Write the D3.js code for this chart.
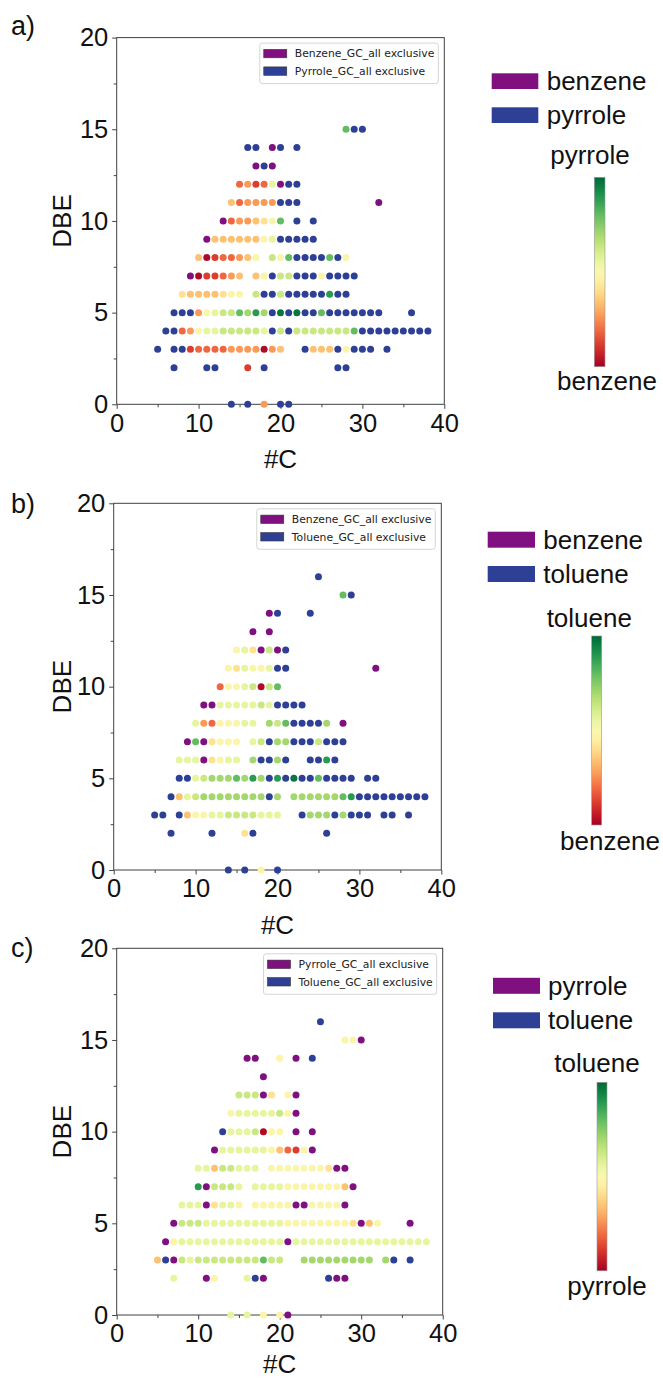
<!DOCTYPE html>
<html>
<head>
<meta charset="utf-8">
<script src="https://cdn.jsdelivr.net/npm/d3@7"></script>
<style>
  body { margin: 0; background: #fff; }
  svg { display: block; }
</style>
</head>
<body>
<svg id="fig" width="663" height="1378"></svg>
<script>
// ---------------------------------------------------------------------------
// Data
// ---------------------------------------------------------------------------
const carbonTicks = [0, 10, 20, 30, 40];
const carbonMinorTicks = [5, 15, 25, 35];
const dbeTicks = [0, 5, 10, 15, 20];
const dbeMinorTicks = [2.5, 7.5, 12.5, 17.5];

// Each row: [DBE, first carbon number, symbols]; one symbol per consecutive carbon.
//   '.'      no compound
//   'P'      exclusive to the first sample of the pair (purple)
//   'B'      exclusive to the second sample of the pair (blue)
//   'a'..'m' shared compound, relative share of the second sample (RdYlGn)
const shareLevels = {
  a: 0.02, b: 0.12, c: 0.19, d: 0.27, e: 0.34, f: 0.41, g: 0.48,
  h: 0.56, i: 0.63, j: 0.70, k: 0.80, l: 0.89, m: 0.97
};

// a) benzene vs pyrrole
const rowsBenzenePyrrole = [
  [15, 28, "kBB"],
  [14, 16, "BB.PB.B"],
  [13, 17, "PBP"],
  [12, 15, "cdbchPBB"],
  [11, 14, "ecddddBBB"],
  [11, 32, "P"],
  [10, 13, "Pcddefgk.B.B"],
  [9, 11, "PeeeeeeghBBBBB"],
  [8, 10, "eabccdeg.igkBBBBkBg"],
  [7, 9, "Pabbcde.egBiiBBBgBBBB"],
  [6, 8, "feeeefgg.iBBiBBBBBlBB"],
  [5, 7, "BBBdghiikjljBmBmBBkBBBBBBB"],
  [5, 36, "B"],
  [4, 6, "BBcdghhiiiiihBiBiiiiiiikBBBBBBBBB"],
  [3, 5, "B.BBbccccddddade..BeeeBgBBB.B"],
  [2, 7, "B...BB...b.B"],
  [2, 27, "BB"],
  [0, 14, "B.B.d.BB"]
];

// b) benzene vs toluene
const rowsBenzeneToluene = [
  [16, 25, "B"],
  [15, 28, "kB"],
  [14, 19, "PB...B"],
  [13, 17, "P.P"],
  [12, 15, "ghfPiPB"],
  [11, 14, "gfhgghBB"],
  [11, 32, "P"],
  [10, 13, "cgghiaik"],
  [9, 11, "PPhhhhhihBBBB"],
  [8, 10, "hdcggghh.jikBBBBj.P"],
  [7, 9, "PkPfggg.hiBjjBBBiBBB"],
  [6, 8, "hhhPfghh.jBBjB..BBlB"],
  [5, 8, "BBhijjjkjljBlBmBBkBBBB.BB"],
  [4, 7, "BehijjjjjjjjBj.jjjjjjklBBBBBBBBB"],
  [3, 5, "BB.Begghhiiiihhh..BjjjBjBBB.BB.B"],
  [2, 7, "B....B...fB"],
  [2, 26, "B"],
  [0, 14, "B.B.g.B"]
];

// c) pyrrole vs toluene
const rowsPyrroleToluene = [
  [16, 25, "B"],
  [15, 28, "ggP"],
  [14, 16, "PP..g.P.B"],
  [13, 18, "P"],
  [12, 15, "iiiPf.gP"],
  [11, 14, "ghhhhhigP"],
  [10, 13, "Bhhhiagg.P.P"],
  [9, 12, "PhhhhhhgecbgP"],
  [8, 10, "hheiihhh.gggggggfPP"],
  [7, 10, "lPiiih.hhhhgggggggeP"],
  [6, 8, "hhhPfhhg.gggggPPggggP"],
  [5, 7, "PiiihhhhhhhhhhggggggggfPeg"],
  [5, 36, "P"],
  [4, 6, "PghhhhhhhhhhhhhPhhhhhhhhhhhhhhhhh"],
  [3, 5, "eBPihiiiiiiiikii..jjjjjjjjj.jB.B"],
  [2, 7, "h...Pg...hBP"],
  [2, 26, "BPP"],
  [0, 14, "h.h.g.gP"]
];

const panelLetters = ["a)", "b)", "c)"];
const exclusiveLabels = [
  ["Benzene_GC_all exclusive", "Pyrrole_GC_all exclusive"],
  ["Benzene_GC_all exclusive", "Toluene_GC_all exclusive"],
  ["Pyrrole_GC_all exclusive", "Toluene_GC_all exclusive"]
];
const sampleNames = [
  ["benzene", "pyrrole"],
  ["benzene", "toluene"],
  ["pyrrole", "toluene"]
];
const panelRows = [rowsBenzenePyrrole, rowsBenzeneToluene, rowsPyrroleToluene];

// ---------------------------------------------------------------------------
// Styling and layout
// ---------------------------------------------------------------------------
const PURPLE = "#80107f";
const BLUE = "#2e4096";
const SANS = "'Liberation Sans', Arial, Helvetica, sans-serif";
const LEGEND_FONT = "'DejaVu Sans', sans-serif";

const layouts = [
  { frame: [116.7, 37.6, 327.6, 366.7], letterBase: 35, xlabBase: 468,
    side: { patchX: 491.7, patchW: 46.6, patchH: 15.7, row1: 35.7, row2: 69.7, textX: 546.7,
            titleBase: 126.5, titleX: 590, barX: 594.3, barW: 10.7, barTop: 139.7, barBot: 329.1,
            endBase: 352.4, endX: 607 } },
  { frame: [113.7, 503.3, 327.6, 366.7], letterBase: 513, xlabBase: 934,
    side: { patchX: 487.7, patchW: 47.3, patchH: 16, row1: 28.4, row2: 62.7, textX: 543.3,
            titleBase: 123.2, titleX: 589.3, barX: 591.7, barW: 10, barTop: 132.7, barBot: 321.7,
            endBase: 346.7, endX: 610 } },
  { frame: [116.7, 948.3, 326, 366.7], letterBase: 957, xlabBase: 1373,
    side: { patchX: 493, patchW: 47, patchH: 16, row1: 29.5, row2: 64, textX: 548,
            titleBase: 123.5, titleX: 597, barX: 597, barW: 10, barTop: 134, barBot: 322.5,
            endBase: 347, endX: 607 } }
];

const svg = d3.select("#fig");
const defs = svg.append("defs");

function expandRows(rows) {
  const pts = [];
  rows.forEach(([dbe, start, symbols]) => {
    [...symbols].forEach((s, i) => {
      if (s !== ".") pts.push({ c: start + i, dbe, s });
    });
  });
  return pts;
}

function dotColor(s) {
  if (s === "P") return PURPLE;
  if (s === "B") return BLUE;
  return d3.interpolateRdYlGn(shareLevels[s]);
}

panelRows.forEach((rows, p) => {
  const L = layouts[p];
  const [fx, fy, fw, fh] = L.frame;
  const g = svg.append("g");

  const x = d3.scaleLinear().domain([0, 40]).range([fx, fx + fw]);
  const y = d3.scaleLinear().domain([0, 20]).range([fy + fh, fy]);

  // minor ticks
  g.append("g")
    .attr("transform", `translate(0,${fy + fh})`)
    .call(d3.axisBottom(x).tickValues(carbonMinorTicks).tickSize(3).tickFormat(""))
    .call(a => a.select(".domain").remove());
  g.append("g")
    .attr("transform", `translate(${fx},0)`)
    .call(d3.axisLeft(y).tickValues(dbeMinorTicks).tickSize(3).tickFormat(""))
    .call(a => a.select(".domain").remove());

  // major ticks with labels
  const xAxis = g.append("g")
    .attr("transform", `translate(0,${fy + fh})`)
    .call(d3.axisBottom(x).tickValues(carbonTicks).tickSize(4.5).tickPadding(4.8).tickFormat(d3.format("d")));
  const yAxis = g.append("g")
    .attr("transform", `translate(${fx},0)`)
    .call(d3.axisLeft(y).tickValues(dbeTicks).tickSize(4.5).tickPadding(3.9).tickFormat(d3.format("d")));
  [xAxis, yAxis].forEach(a => {
    a.select(".domain").remove();
    a.selectAll("text").attr("font-family", SANS).attr("font-size", 25.5).attr("fill", "#111");
  });
  g.selectAll(".tick line").attr("stroke", "#444");

  // frame
  g.append("rect")
    .attr("x", fx).attr("y", fy).attr("width", fw).attr("height", fh)
    .attr("fill", "none").attr("stroke", "#404040").attr("stroke-width", 1);

  // scatter points
  g.append("g").selectAll("circle")
    .data(expandRows(rows))
    .join("circle")
    .attr("cx", d => x(d.c))
    .attr("cy", d => y(d.dbe))
    .attr("r", 3.5)
    .attr("fill", d => dotColor(d.s));

  // axis titles and panel letter
  g.append("text")
    .attr("x", fx + fw / 2).attr("y", L.xlabBase)
    .attr("text-anchor", "middle")
    .attr("font-family", SANS).attr("font-size", 26).attr("fill", "#111")
    .text("#C");
  g.append("text")
    .attr("transform", `translate(71,${fy + fh / 2}) rotate(-90)`)
    .attr("text-anchor", "middle")
    .attr("font-family", SANS).attr("font-size", 26).attr("fill", "#111")
    .text("DBE");
  g.append("text")
    .attr("x", 11).attr("y", L.letterBase)
    .attr("font-family", SANS).attr("font-size", 27).attr("fill", "#111")
    .text(panelLetters[p]);

  // legend inside the axes
  const leg = g.append("g");
  const legTexts = exclusiveLabels[p].map((lab, i) =>
    leg.append("text")
      .attr("y", fy + 16 + i * 17.5)
      .attr("dy", "0.35em")
      .attr("font-family", LEGEND_FONT).attr("font-size", 10.8).attr("fill", "#222")
      .text(lab));
  const textW = d3.max(legTexts, t => t.node().getComputedTextLength());
  const boxRight = fx + fw - 6;
  const boxLeft = boxRight - (textW + 39);
  leg.insert("rect", ":first-child")
    .attr("x", boxLeft).attr("y", fy + 5.5)
    .attr("width", boxRight - boxLeft).attr("height", 40.5)
    .attr("rx", 2.5)
    .attr("fill", "#fff").attr("fill-opacity", 0.85)
    .attr("stroke", "#d0d0d0").attr("stroke-width", 0.9);
  legTexts.forEach((t, i) => {
    t.attr("x", boxLeft + 35);
    leg.append("rect")
      .attr("x", boxLeft + 4).attr("y", fy + 16 + i * 17.5 - 4.2)
      .attr("width", 23).attr("height", 8.4)
      .attr("fill", i === 0 ? PURPLE : BLUE)
      .attr("stroke", "#333").attr("stroke-width", 0.6);
  });

  // legend and colour bar at the right
  const S = L.side;
  sampleNames[p].forEach((name, i) => {
    const top = fy + (i === 0 ? S.row1 : S.row2);
    g.append("rect")
      .attr("x", S.patchX).attr("y", top)
      .attr("width", S.patchW).attr("height", S.patchH)
      .attr("fill", i === 0 ? PURPLE : BLUE);
    g.append("text")
      .attr("x", S.textX).attr("y", top + S.patchH + 0.8)
      .attr("font-family", SANS).attr("font-size", 26).attr("fill", "#111")
      .text(name);
  });

  const gradId = `share-grad-${p}`;
  const grad = defs.append("linearGradient")
    .attr("id", gradId)
    .attr("x1", 0).attr("y1", 1).attr("x2", 0).attr("y2", 0);
  d3.range(0, 1.0001, 0.05).forEach(t => {
    grad.append("stop").attr("offset", t).attr("stop-color", d3.interpolateRdYlGn(t));
  });
  g.append("rect")
    .attr("x", S.barX).attr("y", fy + S.barTop)
    .attr("width", S.barW).attr("height", S.barBot - S.barTop)
    .attr("fill", `url(#${gradId})`)
    .attr("stroke", "#999").attr("stroke-width", 0.6);
  g.append("text")
    .attr("x", S.titleX).attr("y", fy + S.titleBase)
    .attr("text-anchor", "middle")
    .attr("font-family", SANS).attr("font-size", 26).attr("fill", "#111")
    .text(sampleNames[p][1]);
  g.append("text")
    .attr("x", S.endX).attr("y", fy + S.endBase)
    .attr("text-anchor", "middle")
    .attr("font-family", SANS).attr("font-size", 26).attr("fill", "#111")
    .text(sampleNames[p][0]);
});
</script>
</body>
</html>
